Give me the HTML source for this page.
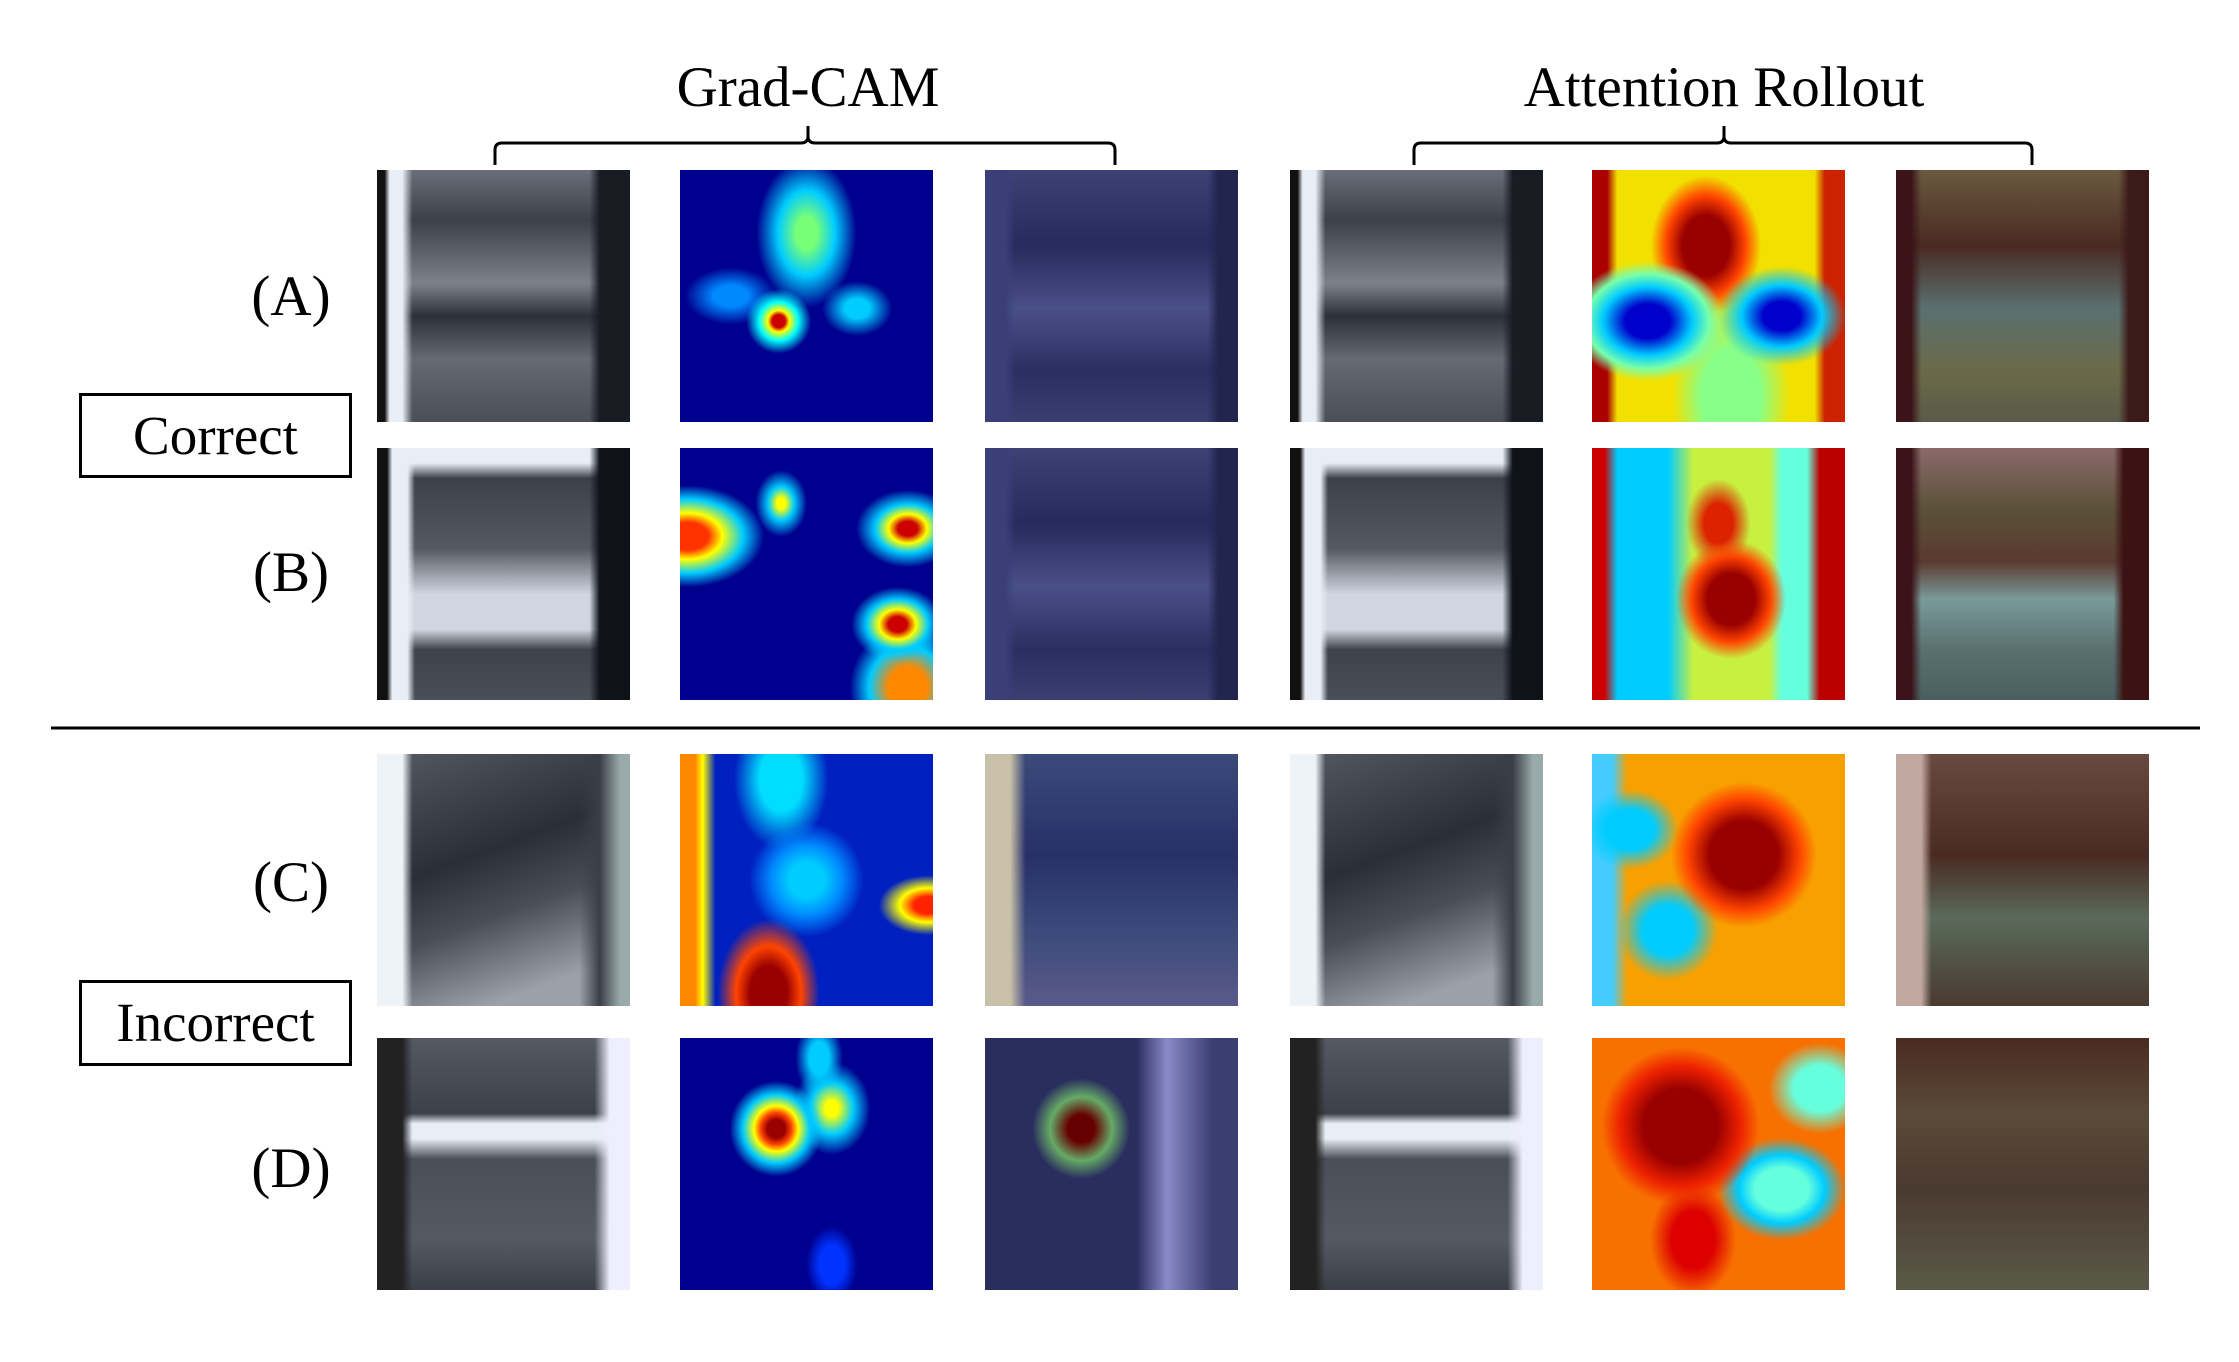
<!DOCTYPE html>
<html><head><meta charset="utf-8"><style>
body{margin:0;background:#fff;width:2239px;height:1362px;position:relative;overflow:hidden;font-family:"Liberation Serif",serif;color:#000}
.t{position:absolute;font-size:57px;line-height:1;white-space:nowrap;transform:translateX(-50%)}
.c{position:absolute;width:253px;height:252px}
.box{position:absolute;border:3px solid #000;box-sizing:border-box;font-size:55px;text-align:center}
.mri{background:
 linear-gradient(90deg,#111 0 3%,#e8eef5 5% 10%,transparent 14% 84%,#1a1c24 88% 100%),
 linear-gradient(180deg,#6a6e78 0%,#3c4048 20%,#7d818a 45%,#2c3038 58%,#666a73 75%,#4a4e57 100%);}
.gc{background:#00008e}
.ov{background:linear-gradient(90deg,#3a3f7a 0 8%,transparent 12% 88%,#22264f 92%),linear-gradient(180deg,#3d4274,#262a5c 30%,#4a5088 55%,#2a2e60 80%,#3a3f70)}
.ar{background:#f5e000}
.ao{background:linear-gradient(90deg,#3a1418 0 6%,transparent 10% 88%,#3c1a1a 92%),linear-gradient(180deg,#6a5a40,#4a2a22 30%,#5a7070 55%,#6a6a48 80%,#5a5a48)}
</style></head><body>
<div class="t" style="left:808px;top:59px">Grad-CAM</div>
<div class="t" style="left:1724px;top:59px">Attention Rollout</div>
<svg style="position:absolute;left:0;top:0" width="2239" height="1362">
<g fill="none" stroke="#000" stroke-width="3">
<path d="M495,165 V150 Q495,143 502,143 H801 Q808,143 808,136 V126 M808,136 Q808,143 815,143 H1108 Q1115,143 1115,150 V165"/>
<path d="M1414,165 V150 Q1414,143 1421,143 H1717 Q1724,143 1724,136 V126 M1724,136 Q1724,143 1731,143 H2025 Q2032,143 2032,150 V165"/>
<line x1="51" y1="728" x2="2200" y2="728"/>
</g></svg>
<div class="t" style="left:291px;top:268px">(A)</div>
<div class="t" style="left:291px;top:544px">(B)</div>
<div class="t" style="left:291px;top:854px">(C)</div>
<div class="t" style="left:291px;top:1140px">(D)</div>
<div class="box" style="left:79px;top:393px;width:273px;height:85px;line-height:79px">Correct</div>
<div class="box" style="left:79px;top:980px;width:273px;height:86px;line-height:80px">Incorrect</div>

<!-- Row A -->
<div class="c mri" style="left:377px;top:170px"></div>
<div class="c gc" style="left:680px;top:170px;background:radial-gradient(circle at 39% 60%,#c00 0 3%,#ff0 5%,#0ff 9%,transparent 15%),radial-gradient(ellipse at 50% 25%,#7f7 0 6%,#0cf 16%,transparent 28%),radial-gradient(ellipse at 70% 55%,#0cf 0 5%,transparent 14%),radial-gradient(ellipse at 20% 50%,#08f 0 6%,transparent 16%),#00008e"></div>
<div class="c ov" style="left:985px;top:170px"></div>
<div class="c mri" style="left:1290px;top:170px"></div>
<div class="c ar" style="left:1592px;top:170px;background:radial-gradient(ellipse at 22% 60%,#00c 0 8%,#0cf 16%,#7fa 22%,transparent 28%),radial-gradient(ellipse at 75% 58%,#00c 0 7%,#0cf 15%,transparent 24%),radial-gradient(ellipse at 45% 30%,#900 0 12%,#f40 20%,transparent 28%),radial-gradient(ellipse at 55% 90%,#8f8 0 15%,transparent 30%),linear-gradient(90deg,#a00 0 6%,transparent 10% 88%,#c20 92%),#f2e000"></div>
<div class="c ao" style="left:1896px;top:170px"></div>
<!-- Row B -->
<div class="c mri" style="left:377px;top:448px;background:linear-gradient(90deg,#111 0 4%,#e8eef5 6% 12%,transparent 15% 84%,#10121a 88%),linear-gradient(180deg,#e8eef5 0 6%,#3c4048 12%,#555962 40%,#cfd6df 58% 72%,#3e424a 80%,#4a4e57)"></div>
<div class="c gc" style="left:680px;top:448px;background:radial-gradient(ellipse at 3% 35%,#f30 0 6%,#ff0 10%,#0cf 16%,transparent 22%),radial-gradient(ellipse at 90% 32%,#c00 0 3%,#ff0 6%,#0cf 10%,transparent 16%),radial-gradient(ellipse at 86% 70%,#c00 0 3%,#ff0 6%,#0cf 10%,transparent 15%),radial-gradient(ellipse at 90% 95%,#f80 0 6%,#0cf 12%,transparent 18%),radial-gradient(ellipse at 40% 22%,#ff0 0 2%,#0cf 6%,transparent 12%),#00008e"></div>
<div class="c ov" style="left:985px;top:448px"></div>
<div class="c mri" style="left:1290px;top:448px;background:linear-gradient(90deg,#111 0 4%,#e8eef5 6% 12%,transparent 15% 84%,#10121a 88%),linear-gradient(180deg,#e8eef5 0 6%,#3c4048 12%,#555962 40%,#cfd6df 58% 72%,#3e424a 80%,#4a4e57)"></div>
<div class="c ar" style="left:1592px;top:448px;background:radial-gradient(ellipse at 55% 60%,#900 0 12%,#f40 20%,transparent 28%),radial-gradient(ellipse at 50% 30%,#d20 0 8%,transparent 18%),linear-gradient(90deg,#c00 0 5%,#0cf 10% 30%,transparent 40% 70%,#6fd 75% 85%,#b00 90%),#c8f040"></div>
<div class="c ao" style="left:1896px;top:448px;background:linear-gradient(90deg,#3a1418 0 6%,transparent 10% 86%,#3c1212 90%),linear-gradient(180deg,#8a6a6a,#5a5038 25%,#5a3a30 45%,#7a9a9a 60%,#5a7070 80%,#4a6060)"></div>
<!-- Row C -->
<div class="c mri" style="left:377px;top:754px;background:linear-gradient(90deg,#eef3f8 0 10%,transparent 14% 80%,#3a3e46 88%,#9aa 96%),linear-gradient(160deg,#555962,#2a2e36 40%,#4a4e57 60%,#9ca0a8 85%)"></div>
<div class="c gc" style="left:680px;top:754px;background:linear-gradient(90deg,#f80 0 6%,#ff0 9%,transparent 14%),radial-gradient(ellipse at 35% 95%,#900 0 8%,#f40 14%,transparent 22%),radial-gradient(ellipse at 98% 60%,#f20 0 4%,#ff0 8%,transparent 14%),radial-gradient(ellipse at 50% 50%,#0cf 0 10%,#08f 20%,transparent 32%),radial-gradient(ellipse at 40% 10%,#0df 0 10%,transparent 22%),#0020c0"></div>
<div class="c ov" style="left:985px;top:754px;background:linear-gradient(90deg,#c8c0a8 0 10%,transparent 16%),linear-gradient(180deg,#3a4a7a,#283068 40%,#3a4a7a 70%,#5a5a8a)"></div>
<div class="c mri" style="left:1290px;top:754px;background:linear-gradient(90deg,#eef3f8 0 10%,transparent 14% 80%,#3a3e46 88%,#9aa 96%),linear-gradient(160deg,#555962,#2a2e36 40%,#4a4e57 60%,#9ca0a8 85%)"></div>
<div class="c ar" style="left:1592px;top:754px;background:radial-gradient(ellipse at 60% 40%,#900 0 16%,#f40 26%,transparent 34%),radial-gradient(ellipse at 30% 70%,#0cf 0 10%,transparent 20%),radial-gradient(ellipse at 15% 30%,#0cf 0 8%,transparent 16%),linear-gradient(90deg,#4cf 0 8%,transparent 14%),#f8a000"></div>
<div class="c ao" style="left:1896px;top:754px;background:linear-gradient(90deg,#c0a8a0 0 10%,transparent 14%),linear-gradient(180deg,#6a4a40,#4a2a22 40%,#5a6a5a 65%,#4a3a30)"></div>
<!-- Row D -->
<div class="c mri" style="left:377px;top:1038px;background:linear-gradient(90deg,#222 0 10%,transparent 14% 86%,#eef 92%),linear-gradient(180deg,#555962,#3c4048 30%,#e8eef5 34% 40%,#4a4e57 48%,#555962 80%,#3a3e46)"></div>
<div class="c gc" style="left:680px;top:1038px;background:radial-gradient(ellipse at 38% 36%,#900 0 4%,#f40 7%,#ff0 10%,#0cf 15%,transparent 21%),radial-gradient(ellipse at 60% 28%,#ff0 0 3%,#0cf 10%,transparent 18%),radial-gradient(ellipse at 55% 8%,#0cf 0 5%,transparent 12%),radial-gradient(ellipse at 60% 90%,#03f 0 6%,transparent 12%),#00008e"></div>
<div class="c ov" style="left:985px;top:1038px;background:radial-gradient(ellipse at 38% 36%,#600 0 6%,#6a6 14%,transparent 22%),linear-gradient(90deg,#2a2e5e 0 60%,#8a8ac8 72%,#3a3e70 90%),#3a3e70"></div>
<div class="c mri" style="left:1290px;top:1038px;background:linear-gradient(90deg,#222 0 10%,transparent 14% 86%,#eef 92%),linear-gradient(180deg,#555962,#3c4048 30%,#e8eef5 34% 40%,#4a4e57 48%,#555962 80%,#3a3e46)"></div>
<div class="c ar" style="left:1592px;top:1038px;background:radial-gradient(ellipse at 35% 35%,#900 0 16%,#e20 26%,transparent 34%),radial-gradient(ellipse at 75% 60%,#6fd 0 10%,#0cf 16%,transparent 24%),radial-gradient(ellipse at 90% 20%,#6fd 0 8%,transparent 16%),radial-gradient(ellipse at 40% 80%,#d00 0 10%,transparent 20%),#f87000"></div>
<div class="c ao" style="left:1896px;top:1038px;background:linear-gradient(180deg,#4a2a22,#5a4a38 30%,#4a3a30 60%,#5a5a48)"></div>
</body></html>
